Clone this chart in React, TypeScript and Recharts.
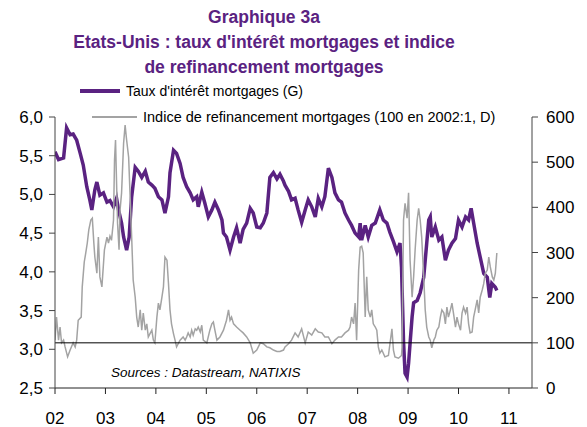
import { Line, LineChart, ReferenceLine, XAxis, YAxis } from "recharts";

const PURPLE = "#5a2281";
const GREY = "#a3a3a3";

// Taux d'intérêt mortgages (échelle de gauche)
const rateYears = [
  2002.0, 2002.07, 2002.17, 2002.23, 2002.3, 2002.36, 2002.43, 2002.5, 2002.56, 2002.63, 2002.69, 2002.73,
  2002.79, 2002.83, 2002.89, 2002.96, 2003.03, 2003.09, 2003.16, 2003.22, 2003.26, 2003.32, 2003.36, 2003.42,
  2003.47, 2003.52, 2003.59, 2003.65, 2003.72, 2003.79, 2003.85, 2003.92, 2003.98, 2004.05, 2004.12, 2004.18,
  2004.25, 2004.28, 2004.35, 2004.41, 2004.48, 2004.54, 2004.61, 2004.68, 2004.74, 2004.81, 2004.84, 2004.91,
  2004.97, 2005.04, 2005.11, 2005.17, 2005.24, 2005.31, 2005.34, 2005.4, 2005.47, 2005.54, 2005.6, 2005.67,
  2005.73, 2005.8, 2005.87, 2005.93, 2006.0, 2006.07, 2006.13, 2006.2, 2006.26, 2006.33, 2006.4, 2006.46,
  2006.53, 2006.56, 2006.63, 2006.69, 2006.76, 2006.82, 2006.89, 2006.96, 2007.02, 2007.09, 2007.16, 2007.22,
  2007.29, 2007.35, 2007.42, 2007.49, 2007.55, 2007.62, 2007.68, 2007.75, 2007.82, 2007.88, 2007.95, 2008.02,
  2008.05, 2008.08, 2008.15, 2008.21, 2008.28, 2008.35, 2008.44, 2008.51, 2008.58, 2008.64, 2008.71, 2008.78,
  2008.84, 2008.87, 2008.91, 2008.94, 2008.98, 2009.01, 2009.04, 2009.08, 2009.11, 2009.18, 2009.24, 2009.31,
  2009.37, 2009.41, 2009.44, 2009.47, 2009.54, 2009.61, 2009.67, 2009.74, 2009.8, 2009.87, 2009.94, 2010.0,
  2010.07, 2010.14, 2010.2, 2010.25, 2010.3, 2010.37, 2010.43, 2010.5, 2010.57, 2010.62, 2010.66, 2010.73,
  2010.76,
];
const rateValues = [
  5.55, 5.45, 5.47, 5.86, 5.77, 5.78, 5.7, 5.53, 5.38, 5.1, 4.93, 4.8,
  5.06, 5.16, 4.99, 5.02, 4.9, 4.92, 4.84, 4.95, 4.8, 4.63, 4.45, 4.28,
  4.45, 4.97, 5.35, 5.3, 5.22, 5.3, 5.16, 5.12, 5.08, 4.97, 4.93, 4.76,
  4.97, 5.28, 5.57, 5.53, 5.4, 5.22, 5.1, 5.02, 4.93, 4.97, 4.84, 5.03,
  4.89, 4.71, 4.8, 4.9, 4.8, 4.67, 4.5, 4.45, 4.28, 4.45, 4.57, 4.37,
  4.55, 4.63, 4.82, 4.76, 4.58, 4.57, 4.63, 4.76, 5.22, 5.28, 5.2, 5.26,
  5.17, 5.12, 5.04, 4.93, 4.95, 4.8, 4.64, 4.8, 4.93, 4.84, 4.71, 4.95,
  4.84, 4.97, 5.34, 5.22, 5.02, 4.93, 4.9, 4.76, 4.67, 4.6, 4.5, 4.45,
  4.63, 4.41, 4.6, 4.45, 4.6, 4.63, 4.8, 4.67, 4.63, 4.51, 4.39, 4.26,
  4.37, 4.06, 3.1, 2.69, 2.64, 2.82, 3.08, 3.42, 3.6, 3.63, 3.73, 3.93,
  4.37, 4.67, 4.71, 4.45, 4.58, 4.41, 4.45, 4.15, 4.28, 4.37, 4.43, 4.67,
  4.58, 4.71, 4.67, 4.82, 4.63, 4.37, 4.19, 3.98, 3.93, 3.67, 3.85, 3.8,
  3.76,
];

// Indice de refinancement mortgages (échelle de droite)
const refiYears = [
  2002.0, 2002.03, 2002.07, 2002.1, 2002.13, 2002.17, 2002.2, 2002.25, 2002.3, 2002.36, 2002.4, 2002.43,
  2002.46, 2002.52, 2002.54, 2002.58, 2002.61, 2002.64, 2002.67, 2002.71, 2002.74, 2002.77, 2002.79, 2002.83,
  2002.86, 2002.89, 2002.93, 2002.98, 2003.03, 2003.06, 2003.09, 2003.12, 2003.16, 2003.18, 2003.2, 2003.24,
  2003.27, 2003.29, 2003.32, 2003.36, 2003.39, 2003.42, 2003.46, 2003.49, 2003.52, 2003.55, 2003.59, 2003.62,
  2003.65, 2003.69, 2003.72, 2003.75, 2003.79, 2003.82, 2003.85, 2003.92, 2003.95, 2003.98, 2004.02, 2004.05,
  2004.08, 2004.12, 2004.15, 2004.18, 2004.22, 2004.25, 2004.28, 2004.31, 2004.35, 2004.38, 2004.41, 2004.48,
  2004.54, 2004.58, 2004.61, 2004.64, 2004.68, 2004.71, 2004.74, 2004.78, 2004.81, 2004.84, 2004.88, 2004.91,
  2004.94, 2005.01, 2005.07, 2005.11, 2005.14, 2005.17, 2005.21, 2005.27, 2005.34, 2005.4, 2005.44, 2005.47,
  2005.5, 2005.54, 2005.6, 2005.67, 2005.73, 2005.8, 2005.87, 2005.93, 2006.0, 2006.07, 2006.13, 2006.2,
  2006.26, 2006.33, 2006.4, 2006.46, 2006.53, 2006.56, 2006.63, 2006.69, 2006.76, 2006.82, 2006.89, 2006.96,
  2007.02, 2007.09, 2007.16, 2007.22, 2007.29, 2007.35, 2007.42, 2007.49, 2007.55, 2007.62, 2007.68, 2007.75,
  2007.82, 2007.85, 2007.88, 2007.92, 2007.95, 2007.98, 2008.02, 2008.05, 2008.08, 2008.11, 2008.15, 2008.18,
  2008.21, 2008.25, 2008.28, 2008.31, 2008.35, 2008.38, 2008.41, 2008.44, 2008.48, 2008.54, 2008.61, 2008.68,
  2008.71, 2008.74, 2008.81, 2008.87, 2008.88, 2008.91, 2008.94, 2008.98, 2009.01, 2009.04, 2009.08, 2009.11,
  2009.14, 2009.18, 2009.21, 2009.24, 2009.27, 2009.31, 2009.34, 2009.37, 2009.41, 2009.44, 2009.47, 2009.51,
  2009.54, 2009.57, 2009.61, 2009.64, 2009.67, 2009.71, 2009.74, 2009.77, 2009.8, 2009.84, 2009.87, 2009.9,
  2009.94, 2009.97, 2010.0, 2010.04, 2010.07, 2010.1, 2010.14, 2010.17, 2010.2, 2010.23, 2010.27, 2010.3,
  2010.33, 2010.37, 2010.4, 2010.43, 2010.47, 2010.5, 2010.53, 2010.57, 2010.6, 2010.63, 2010.67, 2010.7,
  2010.73, 2010.76,
];
const refiValues = [
  106, 157, 106, 135, 100, 106, 91, 69, 84, 100, 91, 106,
  150, 157, 224, 279, 299, 321, 350, 372, 376, 321, 290, 254,
  334, 246, 224, 306, 334, 321, 336, 327, 372, 505, 549, 365,
  306, 394, 432, 542, 582, 549, 511, 423, 334, 239, 201, 157,
  135, 173, 128, 166, 128, 142, 113, 128, 106, 100, 157, 188,
  173, 201, 224, 290, 283, 231, 173, 142, 120, 106, 91, 106,
  113, 106, 113, 122, 113, 128, 117, 131, 128, 135, 124, 139,
  106, 100, 128, 142, 146, 128, 106, 113, 128, 150, 173, 150,
  157, 142, 135, 128, 122, 113, 100, 77, 84, 100, 98, 91,
  89, 84, 81, 81, 84, 91, 98, 106, 122, 113, 131, 100,
  124, 117, 131, 124, 122, 113, 113, 98, 106, 113, 113, 122,
  128, 135, 157, 142, 188, 106, 261, 312, 314, 299, 157, 246,
  173, 157, 173, 142, 135, 128, 91, 77, 84, 69, 72, 131,
  84, 69, 66, 72, 90, 372, 409, 376, 432, 283, 201, 246,
  306, 372, 398, 372, 334, 246, 173, 135, 113, 106, 89, 106,
  113, 128, 135, 157, 173, 166, 142, 179, 157, 173, 188, 166,
  135, 157, 142, 128, 166, 179, 166, 179, 142, 122, 124, 157,
  173, 195, 166, 201, 217, 231, 254, 261, 290, 268, 246, 239,
  254, 299,
];

const yearTicks = [2002, 2003, 2004, 2005, 2006, 2007, 2008, 2009, 2010, 2011];
const rateTicks = [2.5, 3.0, 3.5, 4.0, 4.5, 5.0, 5.5, 6.0];
const refiTicks = [0, 100, 200, 300, 400, 500, 600];

const rateData = rateYears.map((x, i) => ({ x, v: rateValues[i] }));
const refiData = refiYears.map((x, i) => ({ x, v: refiValues[i] }));

const tickStyle = { fill: "#000", fontSize: 17 };

export default function App() {
  return (
    <div
      style={{
        position: "absolute",
        left: 0,
        top: 0,
        width: 587,
        height: 427,
        background: "#fff",
        fontFamily: "'Liberation Sans', Arial, sans-serif",
      }}
    >
      <LineChart width={587} height={427} margin={{ top: 117, right: 0, bottom: 0, left: 0 }}>
        <XAxis
          type="number"
          dataKey="x"
          domain={[2002, 2011.457]}
          ticks={yearTicks}
          interval={0}
          allowDataOverflow
          tickFormatter={(v) => String(v).slice(2)}
          tick={tickStyle}
          tickSize={6}
          tickMargin={18}
          height={39}
          axisLine={{ stroke: "#222" }}
          tickLine={{ stroke: "#222" }}
        />
        <YAxis
          yAxisId="left"
          domain={[2.5, 6]}
          ticks={rateTicks}
          interval={0}
          tickFormatter={(v) => v.toFixed(1).replace(".", ",")}
          tick={tickStyle}
          width={55}
          tickSize={6}
          tickMargin={6}
          axisLine={{ stroke: "#444" }}
          tickLine={{ stroke: "#444" }}
        />
        <YAxis
          yAxisId="right"
          orientation="right"
          domain={[0, 600]}
          ticks={refiTicks}
          interval={0}
          tick={tickStyle}
          width={55}
          tickSize={6}
          tickMargin={8}
          axisLine={{ stroke: "#444" }}
          tickLine={{ stroke: "#444" }}
        />
        <Line
          yAxisId="left"
          data={rateData}
          dataKey="v"
          name="Taux d'intérêt mortgages (G)"
          stroke={PURPLE}
          strokeWidth={3.5}
          dot={false}
          isAnimationActive={false}
        />
        <Line
          yAxisId="right"
          data={refiData}
          dataKey="v"
          name="Indice de refinancement mortgages (100 en 2002:1, D)"
          stroke={GREY}
          strokeWidth={1.5}
          dot={false}
          isAnimationActive={false}
        />
        <ReferenceLine yAxisId="right" y={100} stroke="#000" strokeWidth={1} />
      </LineChart>

      {/* titre */}
      <div
        style={{
          position: "absolute",
          left: 0,
          top: 5,
          width: 528,
          textAlign: "center",
          color: PURPLE,
          fontWeight: "bold",
          fontSize: 17.5,
          lineHeight: "25px",
        }}
      >
        <div>Graphique 3a</div>
        <div>Etats-Unis : taux d'intérêt mortgages et indice</div>
        <div>de refinancement mortgages</div>
      </div>

      {/* légende */}
      <div style={{ position: "absolute", left: 80, top: 89, width: 40, height: 4, background: PURPLE }} />
      <div style={{ position: "absolute", left: 126, top: 82, fontSize: 14, lineHeight: "18px", whiteSpace: "nowrap" }}>
        Taux d'intérêt mortgages (G)
      </div>
      <div style={{ position: "absolute", left: 92, top: 116, width: 45, height: 1.5, background: GREY }} />
      <div style={{ position: "absolute", left: 143, top: 108, fontSize: 14.5, lineHeight: "18px", whiteSpace: "nowrap" }}>
        Indice de refinancement mortgages (100 en 2002:1, D)
      </div>

      <div
        style={{
          position: "absolute",
          left: 111,
          top: 365,
          fontSize: 13.5,
          fontStyle: "italic",
          color: "#000",
          whiteSpace: "nowrap",
        }}
      >
        Sources : Datastream, NATIXIS
      </div>
    </div>
  );
}
